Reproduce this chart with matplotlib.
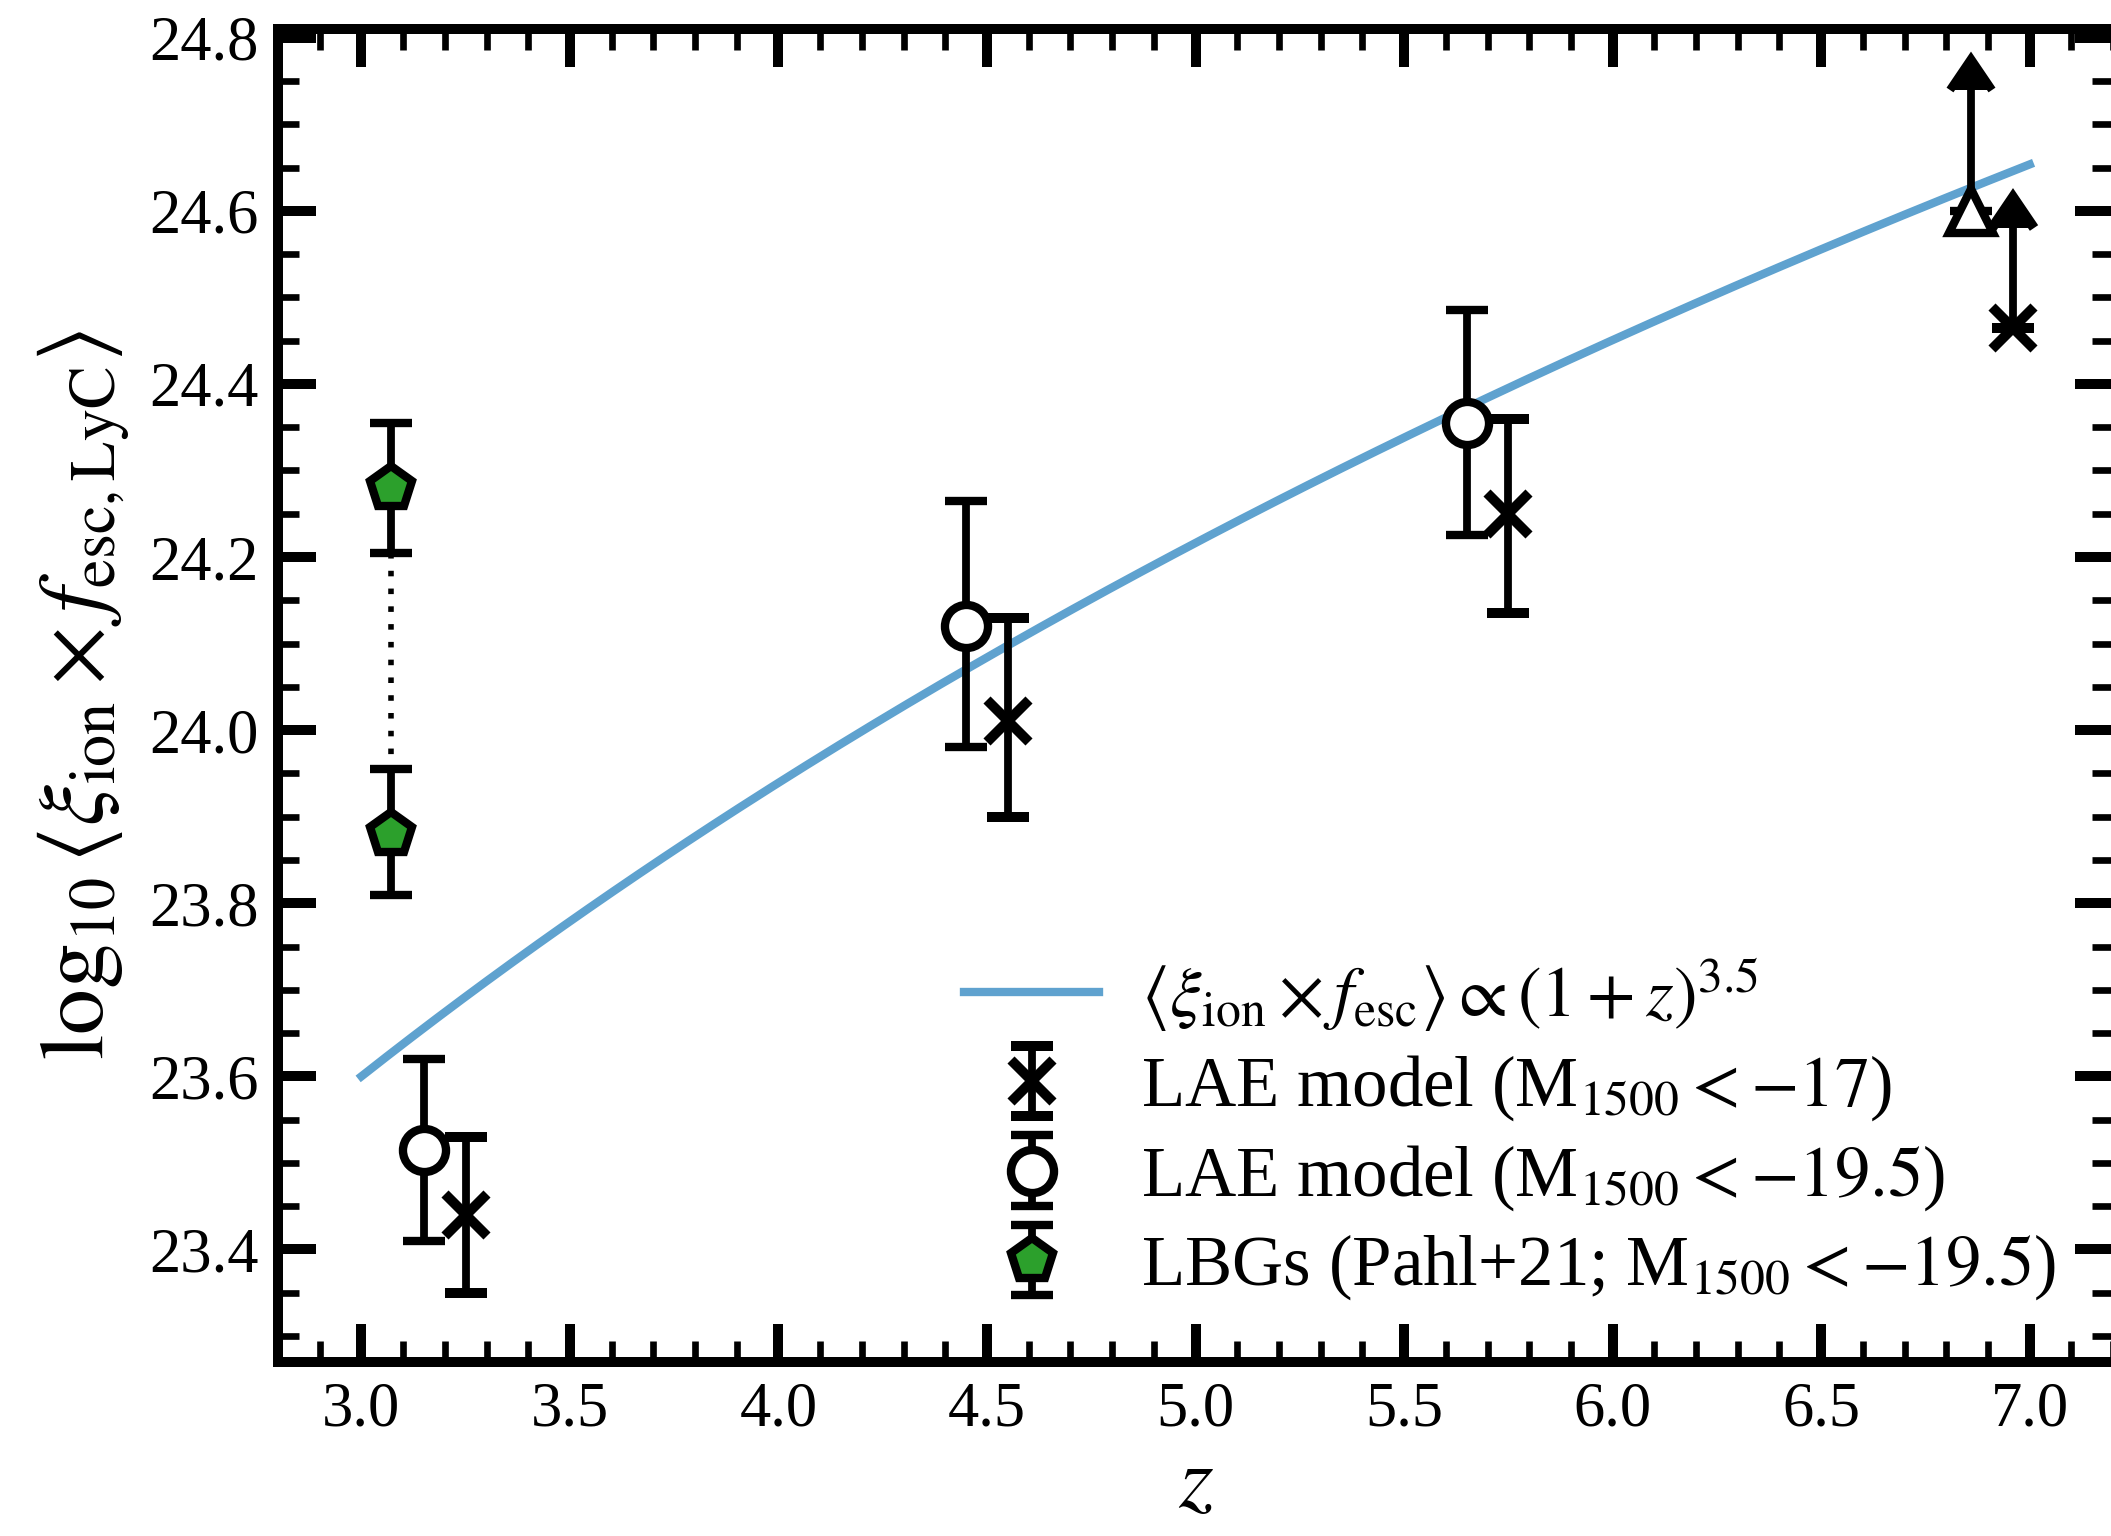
import numpy as np
import matplotlib.pyplot as plt
from matplotlib.ticker import MultipleLocator

plt.rcParams['font.family'] = ['Liberation Serif', 'DejaVu Serif']
plt.rcParams['mathtext.fontset'] = 'stix'

# LAE model, M1500 < -17
z_faint = [3.25, 4.55, 5.75]
y_faint = [23.44, 24.01, 24.25]
y_faint_lo = [23.35, 23.90, 24.135]
y_faint_hi = [23.53, 24.13, 24.36]
# lower limit at the highest redshift
z_faint_lim = [6.96]
y_faint_lim = [24.465]
y_faint_lim_hi = [24.58]

# LAE model, M1500 < -19.5
z_bright = [3.15, 4.45, 5.65]
y_bright = [23.515, 24.12, 24.355]
y_bright_lo = [23.41, 23.98, 24.225]
y_bright_hi = [23.62, 24.265, 24.485]
z_bright_lim = [6.86]
y_bright_lim = [24.60]
y_bright_lim_hi = [24.74]

# Pahl+21 LBGs (two estimates at the same redshift)
z_lbg = [3.07, 3.07]
y_lbg = [24.28, 23.88]
y_lbg_lo = [24.205, 23.81]
y_lbg_hi = [24.355, 23.955]

# power law (1+z)^3.5, normalised at z = 3
z_norm = 3.0
y_norm = 23.6
slope = 3.5
z_range = (3.0, 7.0)


def asym(y, lo, hi):
    y, lo, hi = map(np.asarray, (y, lo, hi))
    return [y - lo, hi - y]


fig = plt.figure(figsize=(10.555, 7.68), dpi=200)
ax = fig.add_axes([0.1317, 0.1133, 0.8693, 0.8678])

# trend line
z_curve = np.linspace(*z_range, 200)
y_curve = y_norm + slope * np.log10((1 + z_curve) / (1 + z_norm))
ax.plot(z_curve, y_curve, color='#5fa2cf', lw=3.0, zorder=1,
        label=r'$\langle \xi_{\rm ion} \times f_{\rm esc} \rangle \propto (1+z)^{3.5}$')

eb_kw = dict(color='black', ecolor='black', elinewidth=2.8, capsize=7.5,
             capthick=2.8, ls='none', zorder=3)

ax.errorbar(z_faint, y_faint, yerr=asym(y_faint, y_faint_lo, y_faint_hi),
            marker='x', ms=15, mew=3.6,
            label=r'LAE model (M$_{1500} < -17$)', **eb_kw)
ax.errorbar(z_faint_lim, y_faint_lim,
            yerr=[[0], np.subtract(y_faint_lim_hi, y_faint_lim)], lolims=True,
            marker='x', ms=15, mew=3.6, **eb_kw)

ax.errorbar(z_bright, y_bright, yerr=asym(y_bright, y_bright_lo, y_bright_hi),
            marker='o', ms=15.5, mew=3.0, mfc='white', mec='black',
            label=r'LAE model (M$_{1500} < -19.5$)', **eb_kw)
ax.errorbar(z_bright_lim, y_bright_lim,
            yerr=[[0], np.subtract(y_bright_lim_hi, y_bright_lim)], lolims=True,
            marker='^', ms=15.5, mew=3.0, mfc='white', mec='black', **eb_kw)

# dotted link between the two LBG estimates
ax.plot([z_lbg[0], z_lbg[1]], [y_lbg_lo[0], y_lbg_hi[1]], color='black',
        lw=2.0, ls=(0, (1, 2.2)), zorder=2)
ax.errorbar(z_lbg, y_lbg, yerr=asym(y_lbg, y_lbg_lo, y_lbg_hi),
            marker='p', ms=16, mew=3.0, mfc='#2ca02c', mec='black',
            label=r'LBGs (Pahl+21; M$_{1500} < -19.5$)', **eb_kw)

ax.set_xlim(2.8, 7.2)
ax.set_ylim(23.27, 24.81)

ax.xaxis.set_major_locator(MultipleLocator(0.5))
ax.xaxis.set_minor_locator(MultipleLocator(0.1))
ax.yaxis.set_major_locator(MultipleLocator(0.2))
ax.yaxis.set_minor_locator(MultipleLocator(0.05))
ax.tick_params(which='both', direction='in', top=True, right=True, labelsize=22.5)
ax.tick_params(which='major', length=13.7, width=3.6, pad=7)
ax.tick_params(which='minor', length=7.5, width=2.4)
for sp in ax.spines.values():
    sp.set_linewidth(3.6)

ax.set_xlabel(r'$z$', fontsize=32, labelpad=2)
ax.set_ylabel(r'$\log_{10}\langle \xi_{\rm ion} \times f_{\rm esc,LyC} \rangle$',
              fontsize=33, labelpad=6)

ax.legend(loc='lower right', bbox_to_anchor=(1.004, -0.003), frameon=False,
          fontsize=25.5, labelspacing=0.28, handletextpad=0.6, handlelength=1.9)

fig.savefig('out.png', dpi=200)
